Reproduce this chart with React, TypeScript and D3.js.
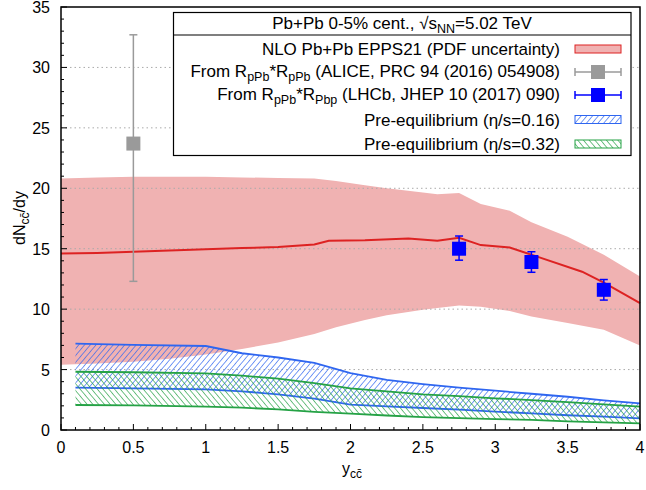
import React from 'react';
import * as d3 from 'd3';

// NLO Pb+Pb EPPS21 band and central value
const bandX = [0, 0.25, 0.5, 0.75, 1.0, 1.25, 1.5, 1.75, 1.9, 2.1, 2.25, 2.5, 2.6, 2.75, 2.9, 3.1, 3.25, 3.5, 3.75, 4.0];
const bandHi = [20.8, 20.9, 20.95, 20.95, 20.95, 20.9, 20.85, 20.8, 20.6, 20.25, 20.0, 19.65, 19.5, 19.6, 18.7, 18.15, 17.2, 16.0, 14.5, 12.7];
const bandLo = [5.4, 5.5, 5.65, 5.9, 6.25, 6.7, 7.25, 7.95, 8.5, 9.1, 9.5, 9.95, 10.1, 10.3, 10.2, 9.85, 9.4, 8.85, 8.3, 7.0];
const lineX = [0, 0.25, 0.5, 0.75, 1.0, 1.25, 1.5, 1.75, 1.85, 2.1, 2.4, 2.6, 2.75, 2.9, 3.1, 3.3, 3.6, 3.75, 4.0];
const lineY = [14.6, 14.65, 14.75, 14.85, 14.95, 15.05, 15.15, 15.35, 15.65, 15.7, 15.85, 15.65, 15.9, 15.3, 15.1, 14.3, 13.1, 12.2, 10.5];

// pre-equilibrium bands
const preX = [0.1, 0.5, 1.0, 1.25, 1.5, 1.75, 2.0, 2.25, 2.5, 2.75, 3.0, 3.25, 3.5, 3.75, 4.0];
const pre016Hi = [7.15, 7.05, 6.95, 6.35, 6.0, 5.55, 4.7, 4.15, 3.8, 3.5, 3.25, 3.0, 2.75, 2.45, 2.2];
const pre016Lo = [3.5, 3.45, 3.36, 3.2, 2.95, 2.6, 2.1, 1.95, 1.82, 1.68, 1.52, 1.38, 1.22, 1.1, 0.97];
const pre032Hi = [4.82, 4.78, 4.69, 4.5, 4.25, 3.88, 3.45, 3.2, 2.95, 2.8, 2.62, 2.48, 2.3, 2.12, 1.93];
const pre032Lo = [2.07, 2.03, 1.93, 1.85, 1.7, 1.5, 1.35, 1.2, 1.07, 0.98, 0.9, 0.83, 0.72, 0.63, 0.55];

// data points
const aliceX = [0.5];
const aliceY = [23.7];
const aliceLo = [12.3];
const aliceHi = [32.7];
const lhcbX = [2.75, 3.25, 3.75];
const lhcbY = [15.0, 13.9, 11.6];
const lhcbLo = [14.05, 13.05, 10.75];
const lhcbHi = [16.05, 14.75, 12.45];

const xTicks = [0, 0.5, 1, 1.5, 2, 2.5, 3, 3.5, 4];
const yTicks = [0, 5, 10, 15, 20, 25, 30, 35];

const W = 646, H = 490;
const font = '"Liberation Sans", Arial, sans-serif';
const pink = '#f0b2b2';
const red = '#dd2222';
const blue = '#2f66f0';
const green = '#25a245';
const gray = '#9a9a9a';

export default function App() {
  const x = d3.scaleLinear().domain([0, 4]).range([61, 640]);
  const y = d3.scaleLinear().domain([0, 35]).range([430, 7]);

  const area = (xs: number[], lo: number[], hi: number[]) =>
    d3.area<number>().x((d, i) => x(xs[i])).y0((d, i) => y(lo[i])).y1((d, i) => y(hi[i]))(xs) || '';
  const line = (xs: number[], ys: number[]) =>
    d3.line<number>().x((d, i) => x(xs[i])).y((d, i) => y(ys[i]))(xs) || '';

  const xMinor = d3.range(0, 40.5, 1).map(v => v / 10);
  const yMinor = d3.range(0, 36, 1);

  const points = (xs: number[], ys: number[], lo: number[], hi: number[], color: string, fill: string, lw: number) =>
    xs.map((xv, i) => (
      <g key={i}>
        <line x1={x(xv)} x2={x(xv)} y1={y(lo[i])} y2={y(hi[i])} stroke={color} strokeWidth={lw} />
        <line x1={x(xv) - 4} x2={x(xv) + 4} y1={y(lo[i])} y2={y(lo[i])} stroke={color} strokeWidth={lw} />
        <line x1={x(xv) - 4} x2={x(xv) + 4} y1={y(hi[i])} y2={y(hi[i])} stroke={color} strokeWidth={lw} />
        <rect x={x(xv) - 7} y={y(ys[i]) - 7} width={14} height={14} fill={fill} />
      </g>
    ));

  const lx0 = 575, lx1 = 621, lTextX = 560;
  const rows = [49, 72, 95, 119.5, 144];
  const lfs = 17, sfs = 12.5;

  return (
    <svg width={W} height={H} style={{ position: 'absolute', left: 0, top: 0, fontFamily: font }}>
      <defs>
        <pattern id="hatchBlue" patternUnits="userSpaceOnUse" width={4.4} height={4.4} patternTransform="rotate(40)">
          <line x1={0} y1={0} x2={0} y2={4.4} stroke={blue} strokeWidth={1.3} />
        </pattern>
        <pattern id="hatchGreen" patternUnits="userSpaceOnUse" width={4.4} height={4.4} patternTransform="rotate(-40)">
          <line x1={0} y1={0} x2={0} y2={4.4} stroke={green} strokeWidth={1.3} />
        </pattern>
      </defs>
      <rect x={0} y={0} width={W} height={H} fill="#fff" />

      {/* EPPS21 band */}
      <path d={area(bandX, bandLo, bandHi)} fill={pink} />

      {/* grid */}
      {yTicks.slice(1, -1).map(t => (
        <line key={t} x1={x(0)} x2={x(4)} y1={y(t)} y2={y(t)} stroke="#aaa" strokeWidth={1} strokeDasharray="1.5,3" />
      ))}

      {/* pre-equilibrium bands */}
      <path d={area(preX, pre016Lo, pre016Hi)} fill="url(#hatchBlue)" />
      <path d={line(preX, pre016Hi)} fill="none" stroke={blue} strokeWidth={1.8} />
      <path d={line(preX, pre016Lo)} fill="none" stroke={blue} strokeWidth={1.8} />
      <path d={area(preX, pre032Lo, pre032Hi)} fill="url(#hatchGreen)" />
      <path d={line(preX, pre032Hi)} fill="none" stroke={green} strokeWidth={1.8} />
      <path d={line(preX, pre032Lo)} fill="none" stroke={green} strokeWidth={1.8} />

      {/* central NLO line */}
      <path d={line(lineX, lineY)} fill="none" stroke={red} strokeWidth={2} />

      {points(aliceX, aliceY, aliceLo, aliceHi, gray, gray, 1.5)}
      {points(lhcbX, lhcbY, lhcbLo, lhcbHi, '#0000ff', '#0000ff', 1.5)}

      {/* ticks */}
      {xMinor.map((t, i) => (
        <line key={'xm' + i} x1={x(t)} x2={x(t)} y1={y(0)} y2={y(0) - (i % 5 === 0 ? 6 : 3)} stroke="#000" strokeWidth={1} />
      ))}
      {yMinor.map((t, i) => (
        <line key={'ym' + i} x1={x(0)} x2={x(0) + (i % 5 === 0 ? 6 : 3)} y1={y(t)} y2={y(t)} stroke="#000" strokeWidth={1} />
      ))}
      <rect x={x(0)} y={y(35)} width={x(4) - x(0)} height={y(0) - y(35)} fill="none" stroke="#000" strokeWidth={1.5} />

      {xTicks.map(t => (
        <text key={t} x={x(t)} y={453} fontSize={16} textAnchor="middle">{String(t)}</text>
      ))}
      {yTicks.map(t => (
        <text key={t} x={50} y={y(t) + 6} fontSize={16} textAnchor="end">{String(t)}</text>
      ))}

      <text x={342} y={474} fontSize={16}>
        y<tspan fontSize={12} dy={4}>cc̄</tspan>
      </text>
      <text transform="translate(25,218) rotate(-90)" fontSize={16} textAnchor="middle">
        dN<tspan fontSize={12} dy={4}>cc̄</tspan><tspan dy={-4}>/dy</tspan>
      </text>

      {/* legend */}
      <rect x={173.5} y={12.5} width={457.5} height={143} fill="#fff" stroke="#000" strokeWidth={1.2} />
      <line x1={173.5} x2={631} y1={35} y2={35} stroke="#000" strokeWidth={1.2} />
      <text x={402} y={29} fontSize={lfs} textAnchor="middle">
        Pb+Pb 0-5% cent., √s<tspan fontSize={sfs} dy={4}>NN</tspan><tspan dy={-4}>=5.02 TeV</tspan>
      </text>

      <text x={lTextX} y={rows[0] + 6} fontSize={lfs} textAnchor="end">NLO Pb+Pb EPPS21 (PDF uncertainty)</text>
      <rect x={lx0} y={rows[0] - 4} width={lx1 - lx0} height={8} fill={pink} stroke={red} strokeWidth={1} />

      <text x={lTextX} y={rows[1] + 5} fontSize={lfs} textAnchor="end">
        From R<tspan fontSize={sfs} dy={4}>pPb</tspan><tspan dy={-4}>*R</tspan><tspan fontSize={sfs} dy={4}>pPb</tspan><tspan dy={-4}> (ALICE, PRC 94 (2016) 054908)</tspan>
      </text>
      <line x1={lx0} x2={lx1} y1={rows[1]} y2={rows[1]} stroke={gray} strokeWidth={1.5} />
      <line x1={lx0} x2={lx0} y1={rows[1] - 4} y2={rows[1] + 4} stroke={gray} strokeWidth={1.5} />
      <line x1={lx1} x2={lx1} y1={rows[1] - 4} y2={rows[1] + 4} stroke={gray} strokeWidth={1.5} />
      <rect x={598 - 7} y={rows[1] - 7} width={14} height={14} fill={gray} />

      <text x={lTextX} y={rows[2] + 5} fontSize={lfs} textAnchor="end">
        From R<tspan fontSize={sfs} dy={4}>pPb</tspan><tspan dy={-4}>*R</tspan><tspan fontSize={sfs} dy={4}>Pbp</tspan><tspan dy={-4}> (LHCb, JHEP 10 (2017) 090)</tspan>
      </text>
      <line x1={lx0} x2={lx1} y1={rows[2]} y2={rows[2]} stroke="#0000ff" strokeWidth={1.5} />
      <line x1={lx0} x2={lx0} y1={rows[2] - 4} y2={rows[2] + 4} stroke="#0000ff" strokeWidth={1.5} />
      <line x1={lx1} x2={lx1} y1={rows[2] - 4} y2={rows[2] + 4} stroke="#0000ff" strokeWidth={1.5} />
      <rect x={598 - 7} y={rows[2] - 7} width={14} height={14} fill="#0000ff" />

      <text x={lTextX} y={rows[3] + 6} fontSize={lfs} textAnchor="end">Pre-equilibrium (η/s=0.16)</text>
      <rect x={lx0} y={rows[3] - 4} width={lx1 - lx0} height={8} fill="url(#hatchBlue)" stroke={blue} strokeWidth={1} />

      <text x={lTextX} y={rows[4] + 6} fontSize={lfs} textAnchor="end">Pre-equilibrium (η/s=0.32)</text>
      <rect x={lx0} y={rows[4] - 4} width={lx1 - lx0} height={8} fill="url(#hatchGreen)" stroke={green} strokeWidth={1} />
    </svg>
  );
}
